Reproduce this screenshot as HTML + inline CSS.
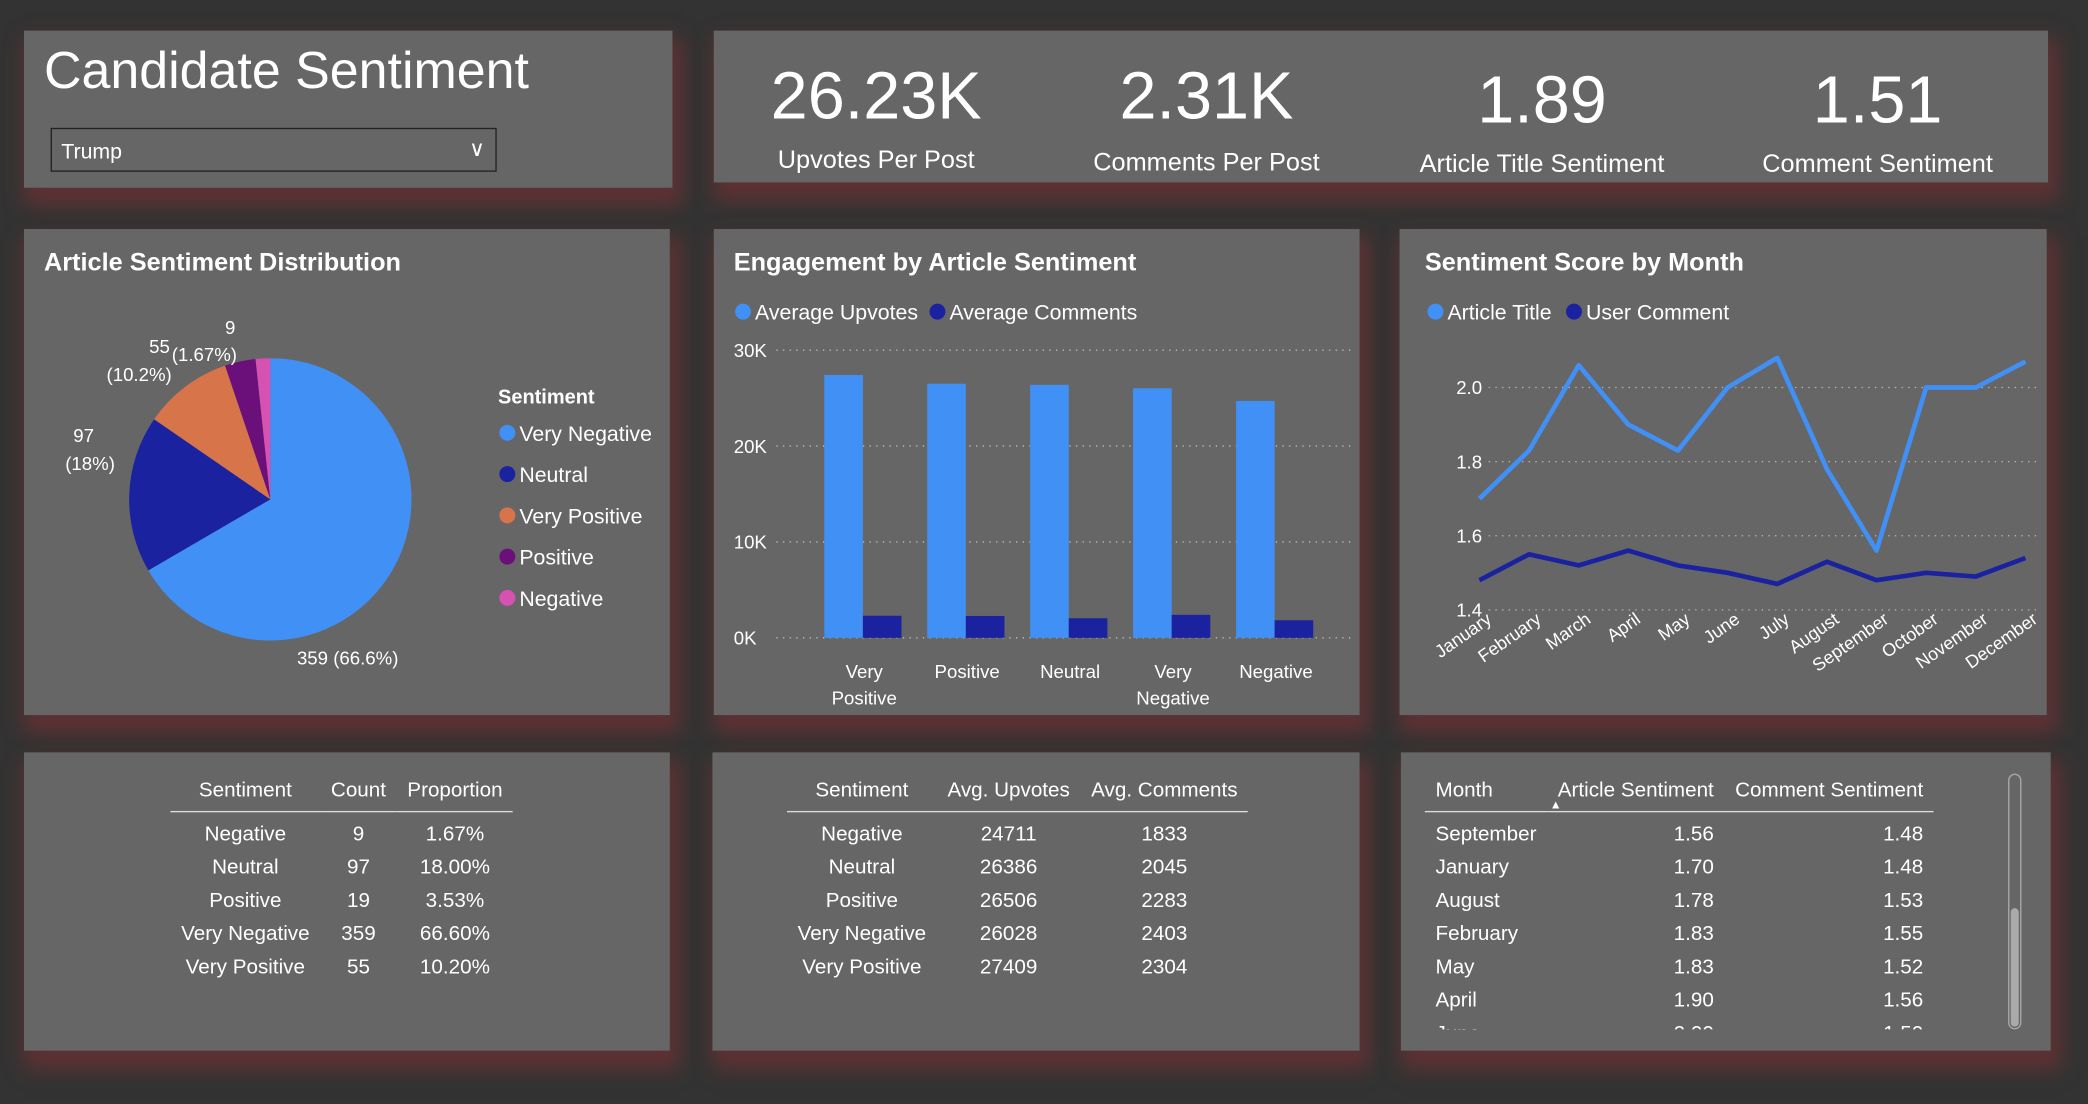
<!DOCTYPE html>
<html><head><meta charset="utf-8">
<style>
html,body{margin:0;padding:0;background:#333;overflow:hidden}
body{width:2088px;height:1104px}
#w{position:absolute;left:0;top:0;width:1568px;height:829px;transform:scale(1.33163);transform-origin:0 0;font-family:"Liberation Sans",sans-serif;color:#fff}
.p{position:absolute;background:#666;box-shadow:4px 10px 14px 4px rgba(110,50,52,.75)}
.t{position:absolute;font-size:19px;font-weight:bold}
.kv{position:absolute;font-size:50px;text-align:center;width:240px}
.kl{position:absolute;font-size:19px;text-align:center;width:240px}
table{position:absolute;border-collapse:collapse;font-size:15.5px}
th{font-weight:normal;padding:0 8px 6px;border-bottom:1px solid #ddd}
td{padding:2px 8px;text-align:center;height:21px}
svg text{font-family:"Liberation Sans",sans-serif;fill:#fff}
</style></head><body>
<div id="w">
<div class="p" style="left:18px;top:23px;width:487px;height:118px">
 <div style="position:absolute;left:15px;top:9px;font-size:39px">Candidate Sentiment</div>
 <div style="position:absolute;left:20px;top:73px;width:335px;height:33px;border:1px solid #222;box-sizing:border-box;font-size:16px;line-height:36px;padding-left:7px">Trump<span style="position:absolute;right:8px;top:-2px;font-size:16px">&#x2228;</span></div>
</div>
<div class="p" style="left:536px;top:23px;width:1002px;height:114px">
 <div class="kv" style="left:2px;top:20px">26.23K</div>
 <div class="kl" style="left:2px;top:87px">Upvotes Per Post</div>
 <div class="kv" style="left:250px;top:20px">2.31K</div>
 <div class="kl" style="left:250px;top:89px">Comments Per Post</div>
 <div class="kv" style="left:502px;top:23px">1.89</div>
 <div class="kl" style="left:502px;top:90px">Article Title Sentiment</div>
 <div class="kv" style="left:754px;top:23px">1.51</div>
 <div class="kl" style="left:754px;top:90px">Comment Sentiment</div>
</div>

<div class="p" style="left:18px;top:172px;width:485px;height:365px">
 <div class="t" style="left:15px;top:15px">Article Sentiment Distribution</div>
</div>
<div class="p" style="left:536px;top:172px;width:485px;height:365px">
 <div class="t" style="left:15px;top:15px">Engagement by Article Sentiment</div>
</div>
<div class="p" style="left:1051px;top:172px;width:486px;height:365px">
 <div class="t" style="left:19px;top:15px">Sentiment Score by Month</div>
</div>

<div class="p" style="left:18px;top:565px;width:485px;height:224px">
 <table style="left:110px;top:20px">
 <tr><th>Sentiment</th><th>Count</th><th>Proportion</th></tr>
 <tr><td style="padding-top:6px">Negative</td><td style="padding-top:6px">9</td><td style="padding-top:6px">1.67%</td></tr>
 <tr><td>Neutral</td><td>97</td><td>18.00%</td></tr>
 <tr><td>Positive</td><td>19</td><td>3.53%</td></tr>
 <tr><td>Very Negative</td><td>359</td><td>66.60%</td></tr>
 <tr><td>Very Positive</td><td>55</td><td>10.20%</td></tr>
 </table>
</div>
<div class="p" style="left:535px;top:565px;width:486px;height:224px">
 <table style="left:56px;top:20px">
 <tr><th style="padding:0 20px 6px">Sentiment</th><th>Avg. Upvotes</th><th>Avg. Comments</th></tr>
 <tr><td style="padding-top:6px">Negative</td><td style="padding-top:6px">24711</td><td style="padding-top:6px">1833</td></tr>
 <tr><td>Neutral</td><td>26386</td><td>2045</td></tr>
 <tr><td>Positive</td><td>26506</td><td>2283</td></tr>
 <tr><td>Very Negative</td><td>26028</td><td>2403</td></tr>
 <tr><td>Very Positive</td><td>27409</td><td>2304</td></tr>
 </table>
</div>
<div class="p" style="left:1052px;top:565px;width:488px;height:224px;overflow:hidden">
 <div style="position:absolute;left:0;top:0;width:440px;height:208px;overflow:hidden">
 <table style="left:18px;top:20px">
 <tr><th style="text-align:left;padding-right:28px">Month</th><th style="position:relative">Article Sentiment<span style="position:absolute;left:2px;top:14px;font-size:9px">&#9650;</span></th><th>Comment Sentiment</th></tr>
 <tr><td style="text-align:left;padding-top:6px">September</td><td style="text-align:right;padding-top:6px">1.56</td><td style="text-align:right;padding-top:6px">1.48</td></tr>
 <tr><td style="text-align:left">January</td><td style="text-align:right">1.70</td><td style="text-align:right">1.48</td></tr>
 <tr><td style="text-align:left">August</td><td style="text-align:right">1.78</td><td style="text-align:right">1.53</td></tr>
 <tr><td style="text-align:left">February</td><td style="text-align:right">1.83</td><td style="text-align:right">1.55</td></tr>
 <tr><td style="text-align:left">May</td><td style="text-align:right">1.83</td><td style="text-align:right">1.52</td></tr>
 <tr><td style="text-align:left">April</td><td style="text-align:right">1.90</td><td style="text-align:right">1.56</td></tr>
 <tr><td style="text-align:left">June</td><td style="text-align:right">2.00</td><td style="text-align:right">1.50</td></tr>
 </table></div>
 <div style="position:absolute;left:456px;top:16px;width:10px;height:192px;border:1px solid #aaa;border-radius:5px;box-sizing:border-box"><div style="position:absolute;left:1px;right:1px;top:100px;bottom:1px;background:#aaa;border-radius:4px"></div></div>
</div>

<svg id="s" width="1568" height="829" style="position:absolute;left:0;top:0"></svg>
</div>
<script>
const pieCats=["Very Negative","Neutral","Very Positive","Positive","Negative"];
const pieVals=[359,97,55,19,9];
const barCats=["Very|Positive","Positive","Neutral","Very|Negative","Negative"];
const upvotes=[27409,26506,26386,26028,24711];
const comments=[2304,2283,2045,2403,1833];
const barTicks=[0,10000,20000,30000];
const barTickLabels=["0K","10K","20K","30K"];
const months=["January","February","March","April","May","June","July","August","September","October","November","December"];
const titleSent=[1.70,1.83,2.06,1.90,1.83,2.00,2.08,1.78,1.56,2.00,2.00,2.07];
const commentSent=[1.48,1.55,1.52,1.56,1.52,1.50,1.47,1.53,1.48,1.50,1.49,1.54];
const lineTicks=[1.4,1.6,1.8,2.0];

const NS="http://www.w3.org/2000/svg",S=document.getElementById('s');
function mk(t,a,txt){const e=document.createElementNS(NS,t);for(const k in a)e.setAttribute(k,a[k]);if(txt!==undefined)e.textContent=txt;S.appendChild(e);return e;}
const LB="#4190f5",DB="#1a22a0";
// pie
const pieCol=["#4190f5","#1a22a0","#d8744a","#6b107a","#d552b3"];
const cx=203,cy=375,r=106,tot=pieVals.reduce((a,b)=>a+b,0);
let a0=0;
pieVals.forEach((v,i)=>{const a1=a0+v/tot*2*Math.PI;
 const p=(a)=>[cx+r*Math.sin(a),cy-r*Math.cos(a)];const [x0,y0]=p(a0),[x1,y1]=p(a1);
 const e=mk('path',{d:`M${cx},${cy}L${x0},${y0}A${r},${r} 0 ${a1-a0>Math.PI?1:0} 1 ${x1},${y1}Z`,fill:pieCol[i]});
 
 
 a0=a1;});
[[223,499,"359 (66.6%)"],[55,332,"97"],[49,353,"(18%)"],[80,286,"(10.2%)"],[112,265,"55"],[129,271,"(1.67%)"],[169,251,"9"]].forEach(l=>{const e=mk('text',{x:l[0],y:l[1],'font-size':14},l[2]);});
const lt=mk('text',{x:374,y:303,'font-size':15,'font-weight':'bold'},"Sentiment");
pieCats.forEach((c,i)=>{const y=325+i*31;const d=mk('circle',{cx:381,cy:y,r:6,fill:pieCol[i]});
 const t=mk('text',{x:390,y:y+6,'font-size':16},c);});
// bar
const by=v=>479-v/30000*216, bx=i=>649+i*77.3;
barTicks.forEach((v,i)=>{const g=mk('line',{x1:583,x2:1018,y1:by(v),y2:by(v),stroke:'#bbb','stroke-dasharray':'1 4'});
 const t=mk('text',{x:551,y:by(v)+5,'font-size':14},barTickLabels[i]);});
[[LB,"Average Upvotes",558],[DB,"Average Comments",704]].forEach(l=>{const d=mk('circle',{cx:l[2],cy:234,r:6,fill:l[0]});const t=mk('text',{x:l[2]+9,y:240,'font-size':16},l[1]);});
barCats.forEach((c,i)=>{const x=bx(i);
 const b1=mk('rect',{x:x-30,y:by(upvotes[i]),width:29,height:479-by(upvotes[i]),fill:LB});
 const b2=mk('rect',{x:x-1,y:by(comments[i]),width:29,height:479-by(comments[i]),fill:DB});
 c.split('|').forEach((w,k)=>{const t=mk('text',{x:x,y:509+k*20,'font-size':14,'text-anchor':'middle'},w);});});
// line
const ly=v=>458-(v-1.4)/0.6*167, lx=i=>1111+i*(410/11);
lineTicks.forEach(v=>{const g=mk('line',{x1:1118,x2:1533,y1:ly(v),y2:ly(v),stroke:'#bbb','stroke-dasharray':'1 4'});
 const t=mk('text',{x:1113,y:ly(v)+5,'font-size':14,'text-anchor':'end'},v.toFixed(1));});
[[LB,"Article Title",1078],[DB,"User Comment",1182]].forEach(l=>{const d=mk('circle',{cx:l[2],cy:234,r:6,fill:l[0]});const t=mk('text',{x:l[2]+9,y:240,'font-size':16},l[1]);});
[[titleSent,LB,'line-article-title'],[commentSent,DB,'line-user-comment']].forEach(s=>{const e=mk('polyline',{points:s[0].map((v,i)=>lx(i)+','+ly(v)).join(' '),fill:'none',stroke:s[1],'stroke-width':3.5,'stroke-linejoin':'round'});});
months.forEach((m,i)=>{const x=lx(i)+10,y=467;const t=mk('text',{x:x,y:y,'font-size':13.5,'text-anchor':'end',transform:`rotate(-35 ${x} ${y})`},m);});
</script>
</body></html>
